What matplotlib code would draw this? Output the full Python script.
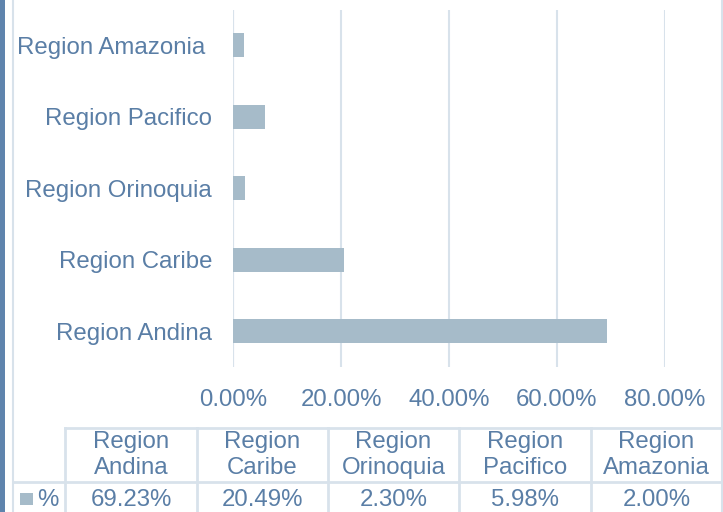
import matplotlib
import matplotlib.pyplot as plt
from matplotlib.lines import Line2D
from matplotlib.patches import Rectangle
import numpy as np

matplotlib.rcParams['font.family'] = ['Liberation Sans', 'DejaVu Sans']

# colors
text_col = "#5a7ea6"
bar_col = "#a6bbc9"
grid_col = "#d8e2eb"
strip_col = "#5f84ad"

regions = ['Region Andina', 'Region Caribe', 'Region Orinoquia', 'Region Pacifico', 'Region Amazonia ']
header_labels = ['Region\nAndina', 'Region\nCaribe', 'Region\nOrinoquia', 'Region\nPacifico', 'Region\nAmazonia']
values = [69.23, 20.49, 2.30, 5.98, 2.00]
xticks = [0, 20, 40, 60, 80]

W, H = 723, 512
fs = 17.3

fig = plt.figure(figsize=(W / 100, H / 100), dpi=100)


def fx(px):
    return px / W


def fy(py):
    return 1 - py / H


# main bar axes (pixel box: x 233..665, y 9.5..367)
ax = fig.add_axes([fx(233), fy(367), fx(665) - fx(233), fy(9.5) - fy(367)])
y = np.arange(len(regions))
ax.barh(y, values, height=0.34, color=bar_col, zorder=3)
ax.set_xlim(0, 80)
ax.set_ylim(-0.5, 4.5)
ax.set_xticks(xticks)
ax.set_xticklabels(['%.2f%%' % t for t in xticks])
ax.set_yticks(y)
ax.set_yticklabels(regions)
ax.tick_params(axis='both', length=0, labelsize=fs, labelcolor=text_col)
ax.tick_params(axis='y', pad=15)
ax.tick_params(axis='x', pad=15.5)
ax.grid(axis='x', color=grid_col, linewidth=1.5, zorder=0)
for s in ax.spines.values():
    s.set_visible(False)
ax.axvline(0, color=grid_col, linewidth=1.5, zorder=1)

# chart frame and left strip
fig.add_artist(Rectangle((0, 0), fx(5), 1, transform=fig.transFigure, color=strip_col, lw=0))
fig.add_artist(Line2D([fx(12.5), fx(12.5)], [0, 1], transform=fig.transFigure, color=grid_col, lw=1.5))
fig.add_artist(Line2D([fx(722), fx(722)], [0, 1], transform=fig.transFigure, color=grid_col, lw=1.5))

# data table
col_edges = [65, 197, 328, 459, 591, 722]
top, mid, bot = 428, 482, 512
fig.add_artist(Line2D([fx(65), fx(722)], [fy(top), fy(top)], transform=fig.transFigure, color=grid_col, lw=2))
fig.add_artist(Line2D([fx(12.5), fx(722)], [fy(mid), fy(mid)], transform=fig.transFigure, color=grid_col, lw=2))
for xe in col_edges:
    fig.add_artist(Line2D([fx(xe), fx(xe)], [fy(top), fy(bot)], transform=fig.transFigure, color=grid_col, lw=2))

for i in range(len(values)):
    cx = (col_edges[i] + col_edges[i + 1]) / 2
    fig.text(fx(cx), fy(455), header_labels[i], ha='center', va='center', fontsize=fs,
             color=text_col, linespacing=1.2)
    fig.text(fx(cx), fy(500), '%.2f%%' % values[i], ha='center', va='center', fontsize=fs, color=text_col)

# legend key
fig.add_artist(Rectangle((fx(20), fy(505)), fx(13), fy(493) - fy(505), transform=fig.transFigure,
                         color=bar_col, lw=0))
fig.text(fx(37), fy(500), '%', ha='left', va='center', fontsize=fs, color=text_col)

plt.savefig("out.png", dpi=100)
